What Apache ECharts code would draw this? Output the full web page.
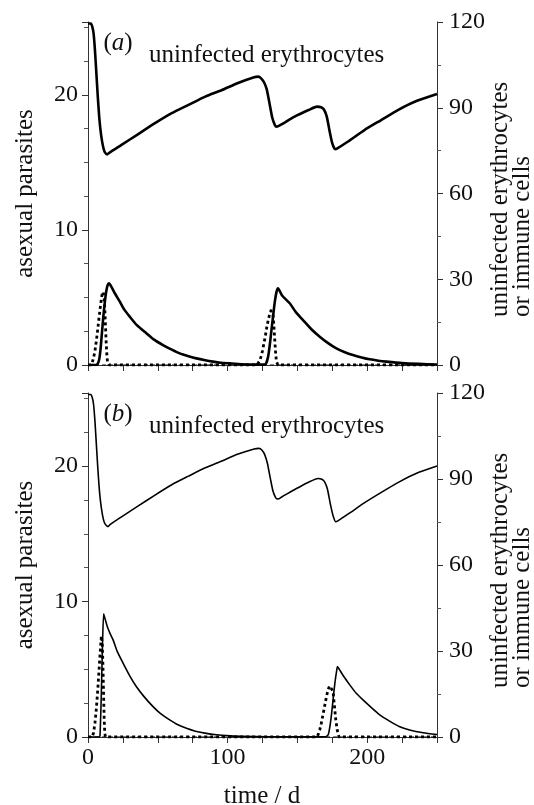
<!DOCTYPE html>
<html>
<head>
<meta charset="utf-8">
<script src="https://cdn.jsdelivr.net/npm/echarts@6/dist/echarts.min.js"></script>
<style>
  html, body { margin: 0; padding: 0; background: #fff; }
  #chart { width: 534px; height: 805px; }
</style>
</head>
<body>
<div id="chart"></div>
<script>
// time (d) / value pairs
// panel (a): uninfected erythrocytes (right axis)
const rbcA = [[0,119.5],[2,119.5],[3,118.5],[4,116],[5,110],[6,102],[7,94],[8,87],[9,82],[10,78.5],[11,76],[12,74.5],[13.8,73.7],[16,74.5],[24,77],[36,80.8],[48,84.6],[60,88.1],[72,91],[84,93.9],[96,96.2],[107,98.6],[119,100.7],[122,100.9],[124,100.3],[126,99],[128,96.5],[130,91.6],[132,86.5],[134,83.8],[135,83.4],[138,84],[148,86.9],[158,89.2],[164,90.4],[167,90.2],[169,89.4],[171,87],[173,82],[175,77.5],[177,75.5],[178,75.6],[186,78.1],[198,82.2],[210,85.7],[222,89.2],[234,92.1],[250,94.8]];
// panel (a): asexual parasites (left axis)
const parA = [[0,0],[6,0],[7,0.1],[8,0.4],[9,1.2],[10,2.4],[11,3.6],[12,4.6],[13,5.4],[14,5.9],[15,6.05],[17,5.75],[19,5.35],[22.8,4.69],[26,4.1],[29.9,3.58],[35,2.95],[41.8,2.35],[47,1.9],[53.7,1.48],[60,1.14],[65.7,0.86],[72,0.65],[77.6,0.49],[84,0.35],[89.5,0.25],[95,0.17],[101.5,0.12],[110,0.06],[120,0.03],[126,0.03],[127.5,0.1],[129,0.6],[130,1.3],[131,2.2],[132,3.1],[133,4],[134,4.8],[135,5.4],[136,5.68],[137,5.55],[139,5.15],[144.5,4.57],[149,3.9],[154,3.33],[160,2.65],[166,2.1],[172,1.62],[177.9,1.23],[184,0.95],[189.8,0.74],[196,0.56],[201.8,0.42],[208,0.32],[213.7,0.25],[225,0.14],[237,0.08],[250,0.04]];
// panel (a): immune cells (right axis, dotted)
const immA = [[0,0],[2,0],[3,0.8],[4,2.5],[5,5],[6,8.5],[7,12.5],[8,17],[9,21],[10,24.5],[10.7,25.6],[11.5,24],[12,20],[12.5,14],[13,8],[13.5,3.5],[14,1],[15,0],[121,0],[122,0.5],[123,1.5],[124,3],[125,5],[126,7.5],[127,10],[128,13],[129,15.5],[130,17.5],[131,19],[131.8,19.3],[132.5,18],[133,15],[133.5,11],[134,7],[134.5,3.5],[135,1.2],[136,0],[250,0]];
// trace lying along zero (fine dashes)
const baseA = [[0,0],[250,0]];

// panel (b)
const rbcB = [[0,119.5],[2,119.5],[3,118.5],[4,116],[5,110],[6,102],[7,94],[8,87],[9,82],[10,78.5],[11,76],[12,74.5],[14.3,73.4],[16,74.2],[24,76.8],[36,80.6],[48,84.4],[60,88],[72,91],[84,93.9],[96,96.3],[107,98.6],[119,100.5],[122.5,100.7],[124.5,100.1],[126.5,98.6],[128.5,95.5],[130.5,90.5],[132.5,85.8],[134.5,83.4],[136,83],[139,83.8],[149,86.6],[158,88.9],[164.8,90.2],[167.5,89.9],[169.5,89],[171.5,86.5],[173.5,81.5],[175.5,77.3],[177.5,75.1],[179,75.4],[187,78],[199,82],[211,85.6],[223,89],[235,91.9],[250,94.5]];
const parB = [[0,0],[8,0],[8.6,0.1],[9.5,3],[10.3,6.5],[11.2,9.1],[12,8.8],[14,8.1],[16,7.6],[17.9,7.19],[21,6.3],[25.1,5.46],[30,4.5],[34.6,3.73],[40,3.0],[46.6,2.24],[52,1.72],[58.5,1.26],[64,0.92],[70.5,0.64],[77,0.43],[84.8,0.27],[92,0.17],[99.1,0.1],[110,0.05],[130,0.02],[160,0.01],[170,0.02],[172,0.15],[173,0.6],[174,1.3],[175,2.2],[176,3.2],[177,4.1],[178,4.8],[178.7,5.2],[180,5.0],[183,4.5],[187.5,3.85],[192,3.25],[197,2.74],[203,2.17],[209,1.63],[216,1.17],[223.3,0.76],[231,0.5],[240,0.32],[250,0.18]];
const immB = [[0,0],[3,0],[4,1.5],[5,5],[6,10],[7,16.5],[8,24],[9,31.5],[9.6,35.3],[10.2,33],[10.7,25],[11.2,14],[11.6,6],[12,1.5],[12.5,0],[164,0],[165,1],[166,2.5],[167,4.5],[168,7],[169,9.5],[170,12],[171,14.5],[172,16.5],[173,17.8],[174.4,18.2],[175.5,16],[176.5,11],[177.5,6],[178.5,2.5],[179.8,0],[250,0]];
const baseB = [[0,0],[250,0]];

const xTicks = [0, 100, 200];
const leftTicks = [0, 10, 20];
const rightTicks = [0, 30, 60, 90, 120];

const FONT = 'Liberation Serif';
const INK = '#111';

const chart = echarts.init(document.getElementById('chart'), null, { renderer: 'canvas' });

const grids = [
    { left: 88, width: 349, top: 22, height: 343 },
    { left: 88, width: 349, top: 393, height: 344 }
];

function xAx(gi, labels) {
    return {
        type: 'value', gridIndex: gi, min: 0, max: 250, interval: 25,
        axisLine: { lineStyle: { color: '#333', width: 1 } },
        axisTick: { show: true, length: 6, lineStyle: { color: '#333' } },
        axisLabel: {
            show: labels, margin: 9, color: INK, fontFamily: FONT, fontSize: 24,
            formatter: v => xTicks.includes(v) ? String(v) : ''
        },
        splitLine: { show: false }
    };
}

function leftAx(gi) {
    return {
        type: 'value', gridIndex: gi, position: 'left', min: 0, max: 25.4, interval: 10,
        name: 'asexual parasites', nameLocation: 'middle', nameGap: 50,
        nameTextStyle: { color: INK, fontFamily: FONT, fontSize: 25 },
        axisLine: { show: true, lineStyle: { color: '#333', width: 1 } },
        axisTick: { show: true, length: 6, lineStyle: { color: '#333' } },
        minorTick: { show: true, splitNumber: 4, length: 4, lineStyle: { color: '#555' } },
        axisLabel: {
            margin: 10, color: INK, fontFamily: FONT, fontSize: 24, showMaxLabel: false,
            formatter: v => leftTicks.includes(v) ? String(v) : ''
        },
        splitLine: { show: false }, minorSplitLine: { show: false }
    };
}

function rightAx(gi) {
    return {
        type: 'value', gridIndex: gi, position: 'right', min: 0, max: 120, interval: 30,
        axisLine: { show: true, lineStyle: { color: '#333', width: 1 } },
        axisTick: { show: true, length: 6, lineStyle: { color: '#333' } },
        minorTick: { show: true, splitNumber: 2, length: 4, lineStyle: { color: '#555' } },
        axisLabel: {
            margin: 12, color: INK, fontFamily: FONT, fontSize: 24,
            formatter: v => rightTicks.includes(v) ? String(v) : ''
        },
        splitLine: { show: false }, minorSplitLine: { show: false }
    };
}

function line(data, xi, yi, width, type, smooth) {
    return {
        type: 'line', data, xAxisIndex: xi, yAxisIndex: yi,
        showSymbol: false, symbol: 'none', smooth: smooth || false, silent: true,
        lineStyle: { color: '#000', width, type: type || 'solid', cap: 'butt', join: 'round' }
    };
}

function panelText(top, tag) {
    return [
        {
            type: 'text', x: 118, y: top + 21,
            style: {
                text: '({i|' + tag + '})', align: 'center', verticalAlign: 'middle',
                font: '25px ' + FONT, fill: INK,
                rich: { i: { fontStyle: 'italic', fontFamily: FONT, fontSize: 25, fill: INK } }
            }
        },
        {
            type: 'text', x: 149, y: top + 33,
            style: { text: 'uninfected erythrocytes', align: 'left', verticalAlign: 'middle', font: '25px ' + FONT, fill: INK }
        },
        {
            type: 'text', x: 511, y: top + 295, rotation: Math.PI / 2,
            style: {
                text: 'uninfected erythrocytes\nor immune cells', align: 'left', verticalAlign: 'middle',
                font: '25px ' + FONT, lineHeight: 22, fill: INK
            }
        }
    ];
}

chart.setOption({
    animation: false,
    backgroundColor: '#fff',
    grid: grids,
    xAxis: [xAx(0, false), xAx(1, true)],
    yAxis: [leftAx(0), rightAx(0), leftAx(1), rightAx(1)],
    series: [
        line(baseA, 0, 0, 1, [4, 3]),
        line(rbcA, 0, 1, 2.6, 'solid', 0.2),
        line(parA, 0, 0, 2.6, 'solid', 0.2),
        line(immA, 0, 1, 2.8, [3, 3]),
        line(baseB, 1, 2, 1, [4, 3]),
        line(rbcB, 1, 3, 1.6, 'solid', 0.2),
        line(parB, 1, 2, 1.6, 'solid', 0.2),
        line(immB, 1, 3, 2.8, [3, 3])
    ],
    graphic: [
        ...panelText(22, 'a'),
        ...panelText(393, 'b'),
        {
            type: 'text', x: 262, y: 796,
            style: { text: 'time / d', align: 'center', verticalAlign: 'middle', font: '25px ' + FONT, fill: INK }
        }
    ]
});
</script>
</body>
</html>
